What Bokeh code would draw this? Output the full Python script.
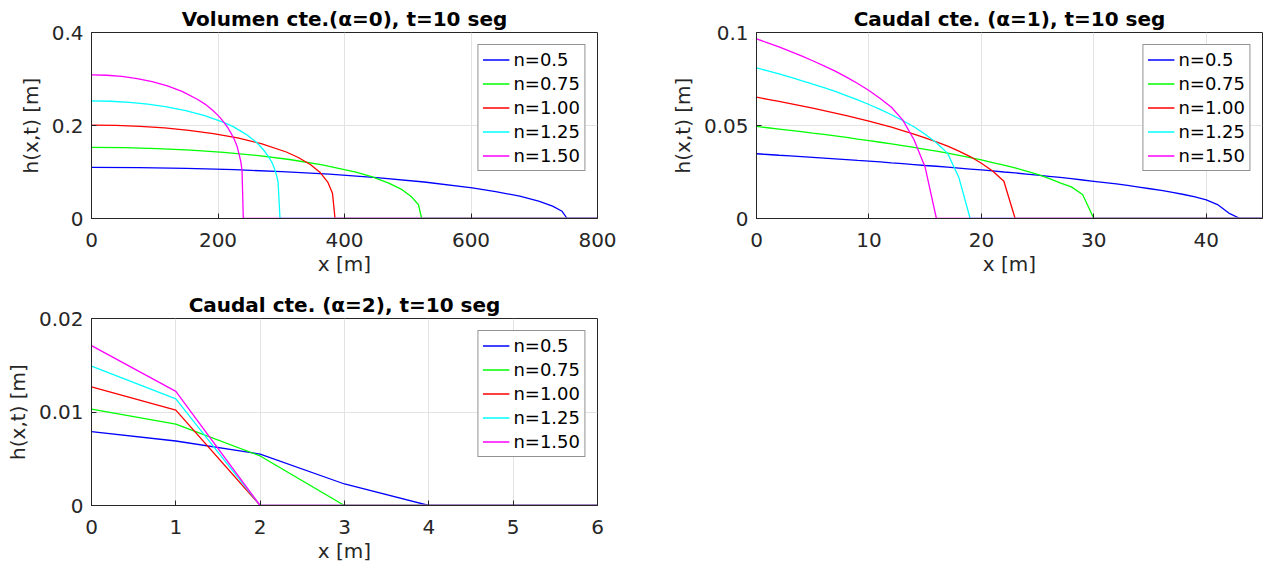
from bokeh.plotting import figure
from bokeh.models import (Range1d, FixedTicker, NumeralTickFormatter, Legend,
                          LegendItem)
from bokeh.layouts import column, row
from bokeh.embed import file_html
from bokeh.resources import INLINE

# ---------------- data ----------------
SERIES_NAMES = ["n=0.5", "n=0.75", "n=1.00", "n=1.25", "n=1.50"]
SERIES_COLORS = ["#0000ff", "#00ff00", "#ff0000", "#00ffff", "#ff00ff"]

# Panel 1: Volumen cte. (alpha=0)
P1_X_n050 = [0, 75, 150, 226, 301, 376, 451, 526, 602, 639, 677, 707, 729, 744, 752, 800]
P1_H_n050 = [0.110, 0.1094, 0.1078, 0.1049, 0.1008, 0.0953, 0.0880, 0.0785, 0.0660, 0.0580, 0.0479, 0.0375, 0.0267, 0.0155, 0, 0]
P1_X_n075 = [0, 52, 104, 157, 209, 261, 313, 365, 418, 444, 470, 491, 506, 517, 522, 800]
P1_H_n075 = [0.153, 0.1524, 0.1504, 0.1471, 0.1422, 0.1356, 0.1269, 0.1153, 0.0996, 0.0893, 0.0762, 0.0620, 0.0466, 0.0295, 0, 0]
P1_X_n100 = [0, 38.5, 77, 115.5, 154, 192.5, 231, 269.5, 308, 327, 346.5, 362, 373.5, 381, 385, 800]
P1_H_n100 = [0.201, 0.2003, 0.1983, 0.1948, 0.1897, 0.1826, 0.1732, 0.1606, 0.1430, 0.1312, 0.1156, 0.0982, 0.0784, 0.0545, 0, 0]
P1_X_n125 = [0, 30, 60, 89, 119, 149, 179, 209, 224, 238, 246, 253, 261, 268, 274, 280, 285, 289, 292, 295, 298, 800]
P1_H_n125 = [0.253, 0.2522, 0.2499, 0.2459, 0.2401, 0.2321, 0.2213, 0.2067, 0.1975, 0.1862, 0.1797, 0.1722, 0.1636, 0.1537, 0.1440, 0.1327, 0.1215, 0.1083, 0.0960, 0.0781, 0, 0]
P1_X_n150 = [0, 24, 48, 72, 96, 120, 144, 168, 180, 192, 198, 204, 210, 216, 221, 226, 230, 233, 236, 238, 240, 800]
P1_H_n150 = [0.309, 0.3081, 0.3055, 0.3010, 0.2943, 0.2851, 0.2727, 0.2559, 0.2455, 0.2321, 0.2245, 0.2158, 0.2058, 0.1941, 0.1825, 0.1692, 0.1560, 0.1399, 0.1230, 0.1032, 0, 0]

# Panel 2: Caudal cte. (alpha=1), x = 0..45 m
P2_X = list(range(0, 46))
P2_H_n050 = [0.0348, 0.0344, 0.0340, 0.0337, 0.0333, 0.0329, 0.0325, 0.0321, 0.0317, 0.0312,
             0.0308, 0.0304, 0.0299, 0.0295, 0.0290, 0.0285, 0.0281, 0.0276, 0.0271, 0.0266,
             0.0261, 0.0256, 0.0250, 0.0245, 0.0239, 0.0233, 0.0227, 0.0221, 0.0214, 0.0207,
             0.0200, 0.0193, 0.0186, 0.0178, 0.0169, 0.0160, 0.0151, 0.0140, 0.0129, 0.0116,
             0.0100, 0.0075, 0.0029, 0, 0, 0]
P2_H_n075 = [0.0495, 0.0488, 0.0481, 0.0474, 0.0467, 0.0459, 0.0452, 0.0444, 0.0436, 0.0427,
             0.0419, 0.0410, 0.0401, 0.0392, 0.0382, 0.0372, 0.0362, 0.0351, 0.0339, 0.0327,
             0.0315, 0.0301, 0.0287, 0.0272, 0.0255, 0.0237, 0.0216, 0.0192, 0.0170, 0.0129,
             0, 0, 0, 0, 0, 0, 0, 0, 0, 0,
             0, 0, 0, 0, 0, 0]
P2_H_n100 = [0.0652, 0.0641, 0.0630, 0.0618, 0.0606, 0.0593, 0.0580, 0.0567, 0.0553, 0.0538,
             0.0523, 0.0507, 0.0491, 0.0473, 0.0454, 0.0434, 0.0412, 0.0389, 0.0362, 0.0333,
             0.0297, 0.0255, 0.0200, 0, 0, 0, 0, 0, 0, 0,
             0, 0, 0, 0, 0, 0, 0, 0, 0, 0,
             0, 0, 0, 0, 0, 0]
P2_H_n125 = [0.0810, 0.0794, 0.0777, 0.0760, 0.0741, 0.0723, 0.0703, 0.0683, 0.0661, 0.0638,
             0.0613, 0.0587, 0.0558, 0.0527, 0.0493, 0.0453, 0.0407, 0.0350, 0.0220, 0,
             0, 0, 0, 0, 0, 0, 0, 0, 0, 0,
             0, 0, 0, 0, 0, 0, 0, 0, 0, 0,
             0, 0, 0, 0, 0, 0]
P2_H_n150 = [0.0966, 0.0944, 0.0923, 0.0899, 0.0874, 0.0848, 0.0821, 0.0792, 0.0760, 0.0726,
             0.0688, 0.0645, 0.0598, 0.0530, 0.0425, 0.0275, 0, 0, 0, 0,
             0, 0, 0, 0, 0, 0, 0, 0, 0, 0,
             0, 0, 0, 0, 0, 0, 0, 0, 0, 0,
             0, 0, 0, 0, 0, 0]

# Panel 3: Caudal cte. (alpha=2), x = 0..6 m
P3_X = [0, 1, 2, 3, 4, 5, 6]
P3_H_n050 = [0.0079, 0.0069, 0.0055, 0.0023, 0, 0, 0]
P3_H_n075 = [0.0103, 0.0087, 0.0053, 0, 0, 0, 0]
P3_H_n100 = [0.0127, 0.0102, 0, 0, 0, 0, 0]
P3_H_n125 = [0.0149, 0.0114, 0, 0, 0, 0, 0]
P3_H_n150 = [0.0171, 0.0122, 0, 0, 0, 0, 0]

TITLES = ["Volumen cte.(\u03b1=0), t=10 seg",
          "Caudal cte. (\u03b1=1), t=10 seg",
          "Caudal cte. (\u03b1=2), t=10 seg"]
X_LABEL = "x [m]"
Y_LABEL = "h(x,t) [m]"

P1_XTICKS = [0, 200, 400, 600, 800]
P1_YTICKS = [0, 0.2, 0.4]
P2_XTICKS = [0, 10, 20, 30, 40]
P2_YTICKS = [0, 0.05, 0.1]
P3_XTICKS = [0, 1, 2, 3, 4, 5, 6]
P3_YTICKS = [0, 0.01, 0.02]

# ---------------- style ----------------
FONT = "DejaVu Sans"
AX_COLOR = "#262626"
GRID_COLOR = "#e3e3e3"


def make_panel(title, xr, yr, xticks, yticks, xs_list, hs_list,
               width, height, mb_left, mb_right, mb_top, mb_bottom):
    p = figure(width=width, height=height,
               x_range=Range1d(*xr), y_range=Range1d(*yr),
               output_backend="svg", toolbar_location=None,
               min_border_left=mb_left, min_border_right=mb_right,
               min_border_top=mb_top, min_border_bottom=mb_bottom,
               background_fill_color="white", border_fill_color="white")
    p.title.text = title
    p.title.align = "center"
    p.title.text_font = FONT
    p.title.text_font_size = "20px"
    p.title.text_font_style = "bold"
    p.title.text_color = "#000000"
    p.title.standoff = 4

    p.outline_line_color = AX_COLOR
    p.outline_line_alpha = 1.0
    p.outline_line_width = 1

    for ax, ticks in ((p.xaxis[0], xticks), (p.yaxis[0], yticks)):
        ax.ticker = FixedTicker(ticks=ticks)
        ax.formatter = NumeralTickFormatter(format="0.[00]")
        ax.axis_line_color = AX_COLOR
        ax.major_tick_line_color = AX_COLOR
        ax.major_tick_in = 5
        ax.major_tick_out = 0
        ax.minor_tick_line_color = None
        ax.major_label_text_font = FONT
        ax.major_label_text_font_size = "20px"
        ax.major_label_text_color = AX_COLOR
        ax.axis_label_text_font = FONT
        ax.axis_label_text_font_size = "20px"
        ax.axis_label_text_font_style = "normal"
        ax.axis_label_text_color = AX_COLOR
    p.xaxis.axis_label = X_LABEL
    p.yaxis.axis_label = Y_LABEL
    p.xaxis.major_label_standoff = 14
    p.xaxis.axis_label_standoff = 2
    p.yaxis.major_label_standoff = 8
    p.yaxis.axis_label_standoff = 6

    p.xgrid.ticker = FixedTicker(ticks=xticks)
    p.ygrid.ticker = FixedTicker(ticks=yticks)
    p.xgrid.grid_line_color = GRID_COLOR
    p.ygrid.grid_line_color = GRID_COLOR

    items = []
    for xs, hs, name, color in zip(xs_list, hs_list, SERIES_NAMES, SERIES_COLORS):
        r = p.line(xs, hs, line_color=color, line_width=1.3)
        items.append(LegendItem(label=name, renderers=[r]))

    leg = Legend(items=items, location="top_right")
    leg.label_text_font = FONT
    leg.label_text_font_size = "18px"
    leg.label_text_color = "#000000"
    leg.glyph_width = 27
    leg.glyph_height = 21
    leg.label_height = 21
    leg.label_standoff = 4
    leg.padding = 4
    leg.spacing = 3
    leg.margin = 12
    leg.border_line_color = AX_COLOR
    leg.border_line_width = 1
    leg.background_fill_color = "white"
    leg.background_fill_alpha = 1.0
    p.add_layout(leg)
    return p


p1 = make_panel(TITLES[0], (0, 800), (0, 0.4), P1_XTICKS, P1_YTICKS,
                [P1_X_n050, P1_X_n075, P1_X_n100, P1_X_n125, P1_X_n150],
                [P1_H_n050, P1_H_n075, P1_H_n100, P1_H_n125, P1_H_n150],
                665, 288, 91, 68, 32, 70)
p2 = make_panel(TITLES[1], (0, 45), (0, 0.1), P2_XTICKS, P2_YTICKS,
                [P2_X] * 5,
                [P2_H_n050, P2_H_n075, P2_H_n100, P2_H_n125, P2_H_n150],
                598, 288, 91, 1, 32, 70)
p3 = make_panel(TITLES[2], (0, 6), (0, 0.02), P3_XTICKS, P3_YTICKS,
                [P3_X] * 5,
                [P3_H_n050, P3_H_n075, P3_H_n100, P3_H_n125, P3_H_n150],
                665, 287, 91, 68, 30, 70)

layout = column(row(p1, p2), p3)
open("out.html", "w").write(file_html(layout, INLINE))
